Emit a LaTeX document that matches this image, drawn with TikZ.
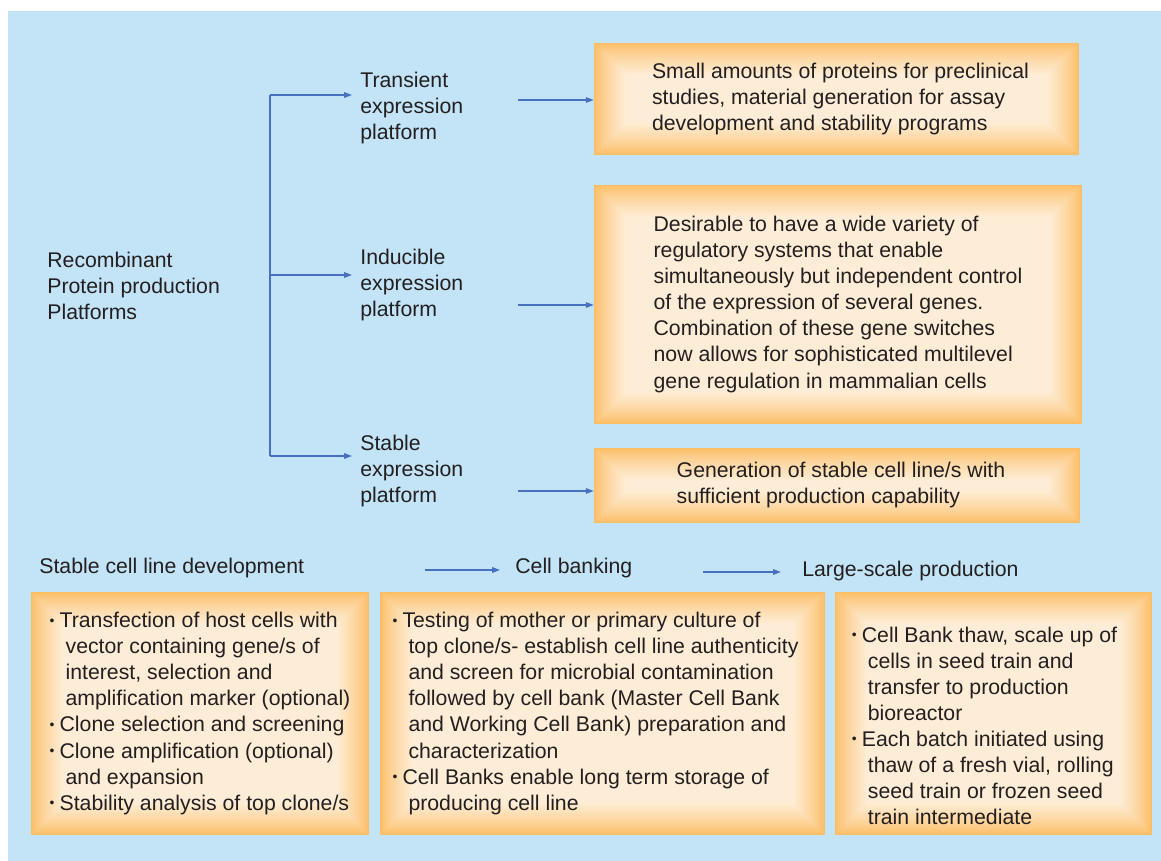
\documentclass[tikz,border=0pt]{standalone}
\usepackage{fontspec}
\setmainfont{Liberation Sans}
\usepackage{tikz}
\usetikzlibrary{arrows.meta,positioning}

\definecolor{bgblue}{RGB}{194,228,246}
\definecolor{boxedge}{RGB}{252,188,98}
\definecolor{boxcore}{RGB}{254,237,214}
\definecolor{arrowblue}{RGB}{72,112,192}
\definecolor{inkgray}{RGB}{35,31,32}

\newcommand{\itm}{\makebox[0.2cm][l]{\raisebox{0.25ex}{\scalebox{0.65}{\textbullet}}}}
\newcommand{\cont}{\hspace*{0.32cm}}

\tikzset{
    txt/.style={inner sep=0pt, anchor=west, align=left, text=inkgray,
        font=\fontsize{12.1}{14.8}\selectfont},
    glowbox/.style={inner sep=0pt, align=left, text=inkgray,
        font=\fontsize{12.1}{14.8}\selectfont, fill=boxedge,
        path picture={
            \foreach \k [evaluate=\k as \pct using {int(100*(\k/32)^0.75)}] in {0,...,32}
                \fill[boxcore!\pct!boxedge]
                    ([shift={(\k*0.02cm,\k*0.02cm)}]path picture bounding box.south west)
                    rectangle ([shift={(-\k*0.02cm,-\k*0.02cm)}]path picture bounding box.north east);
        }},
    flow/.style={->, arrowblue, line width=0.7pt}
}

\begin{document}
\begin{tikzpicture}[x=0.02cm, y=-0.02cm, >={Triangle[length=4.5pt,width=3.2pt]}]
    \useasboundingbox (0,0) rectangle (1161,861);
    \fill[bgblue] (8,11) rectangle (1161,861);

    % top part
    \node[txt] (platforms) at (47,285.5) {Recombinant\\Protein production\\Platforms};

    \node[txt] (transient) at (360,108) {Transient\\expression\\platform};
    \node[txt] (inducible) at (360,285) {Inducible\\expression\\platform};
    \node[txt] (stable) at (360,471) {Stable\\expression\\platform};

    \node[glowbox, minimum width=9.7cm, minimum height=2.24cm] (box1) at (836.5,99)
        {\hspace*{0.16cm}Small amounts of proteins for preclinical\\
         \hspace*{0.16cm}studies, material generation for assay\\
         \hspace*{0.16cm}development and stability programs};
    \node[glowbox, minimum width=9.76cm, minimum height=4.78cm] (box2) at (838,304.5)
        {Desirable to have a wide variety of\\
         regulatory systems that enable\\
         simultaneously but independent control\\
         of the expression of several genes.\\
         Combination of these gene switches\\
         now allows for sophisticated multilevel\\
         gene regulation in mammalian cells};
    \node[glowbox, minimum width=9.72cm, minimum height=1.5cm] (box3) at (837,485.5)
        {\hspace*{0.16cm}Generation of stable cell line/s with\\
         \hspace*{0.16cm}sufficient production capability};

    \coordinate (t-fork) at (270,95);
    \coordinate (i-fork) at (270,275);
    \coordinate (s-fork) at (270,456);
    \coordinate (t-in) at (352,95);
    \coordinate (i-in) at (352,275);
    \coordinate (s-in) at (352,456);

    \draw[arrowblue, line width=0.7pt] (t-fork) -- (s-fork);
    \draw[flow] (t-fork) -- (t-in);
    \draw[flow] (i-fork) -- (i-in);
    \draw[flow] (s-fork) -- (s-in);

    \coordinate (t-out) at (518,100);
    \coordinate (i-out) at (518,305);
    \coordinate (s-out) at (518,491);
    \draw[flow] (t-out) -- (t-out -| box1.west);
    \draw[flow] (i-out) -- (i-out -| box2.west);
    \draw[flow] (s-out) -- (s-out -| box3.west);

    % bottom part
    \node[txt] (develop) at (39,568.5) {Stable cell line development};
    \node[txt] (banking) at (515,568.5) {Cell banking};
    \node[txt] (largescale) at (802,571.5) {Large-scale production};

    \coordinate (d-out) at (425,570);
    \coordinate (b-out) at (703,572);
    \draw[flow, shorten >=0.3cm] (d-out) -- (d-out -| banking.west);
    \draw[flow, shorten >=0.42cm] (b-out) -- (b-out -| largescale.west);

    \node[glowbox, minimum width=6.76cm, minimum height=4.86cm] (boxA) at (200,713.5)
        {\itm Transfection of host cells with\\
         \cont vector containing gene/s of\\
         \cont interest, selection and\\
         \cont amplification marker (optional)\\
         \itm Clone selection and screening\\
         \itm Clone amplification (optional)\\
         \cont and expansion\\
         \itm Stability analysis of top clone/s};
    \node[glowbox, minimum width=8.9cm, minimum height=4.86cm] (boxB) at (602.5,713.5)
        {\itm Testing of mother or primary culture of\\
         \cont top clone/s- establish cell line authenticity\rule{0.28cm}{0pt}\\
         \cont and screen for microbial contamination\\
         \cont followed by cell bank (Master Cell Bank\\
         \cont and Working Cell Bank) preparation and\\
         \cont characterization\\
         \itm Cell Banks enable long term storage of\\
         \cont producing cell line};
    \node[glowbox, minimum width=6.34cm, minimum height=4.86cm] (boxC) at (993.5,713.5)
        {\rule{0pt}{0.79cm}\itm Cell Bank thaw, scale up of\rule{0.36cm}{0pt}\\
         \cont cells in seed train and\\
         \cont transfer to production\\
         \cont bioreactor\\
         \itm Each batch initiated using\\
         \cont thaw of a fresh vial, rolling\\
         \cont seed train or frozen seed\\
         \cont train intermediate};
\end{tikzpicture}
\end{document}
